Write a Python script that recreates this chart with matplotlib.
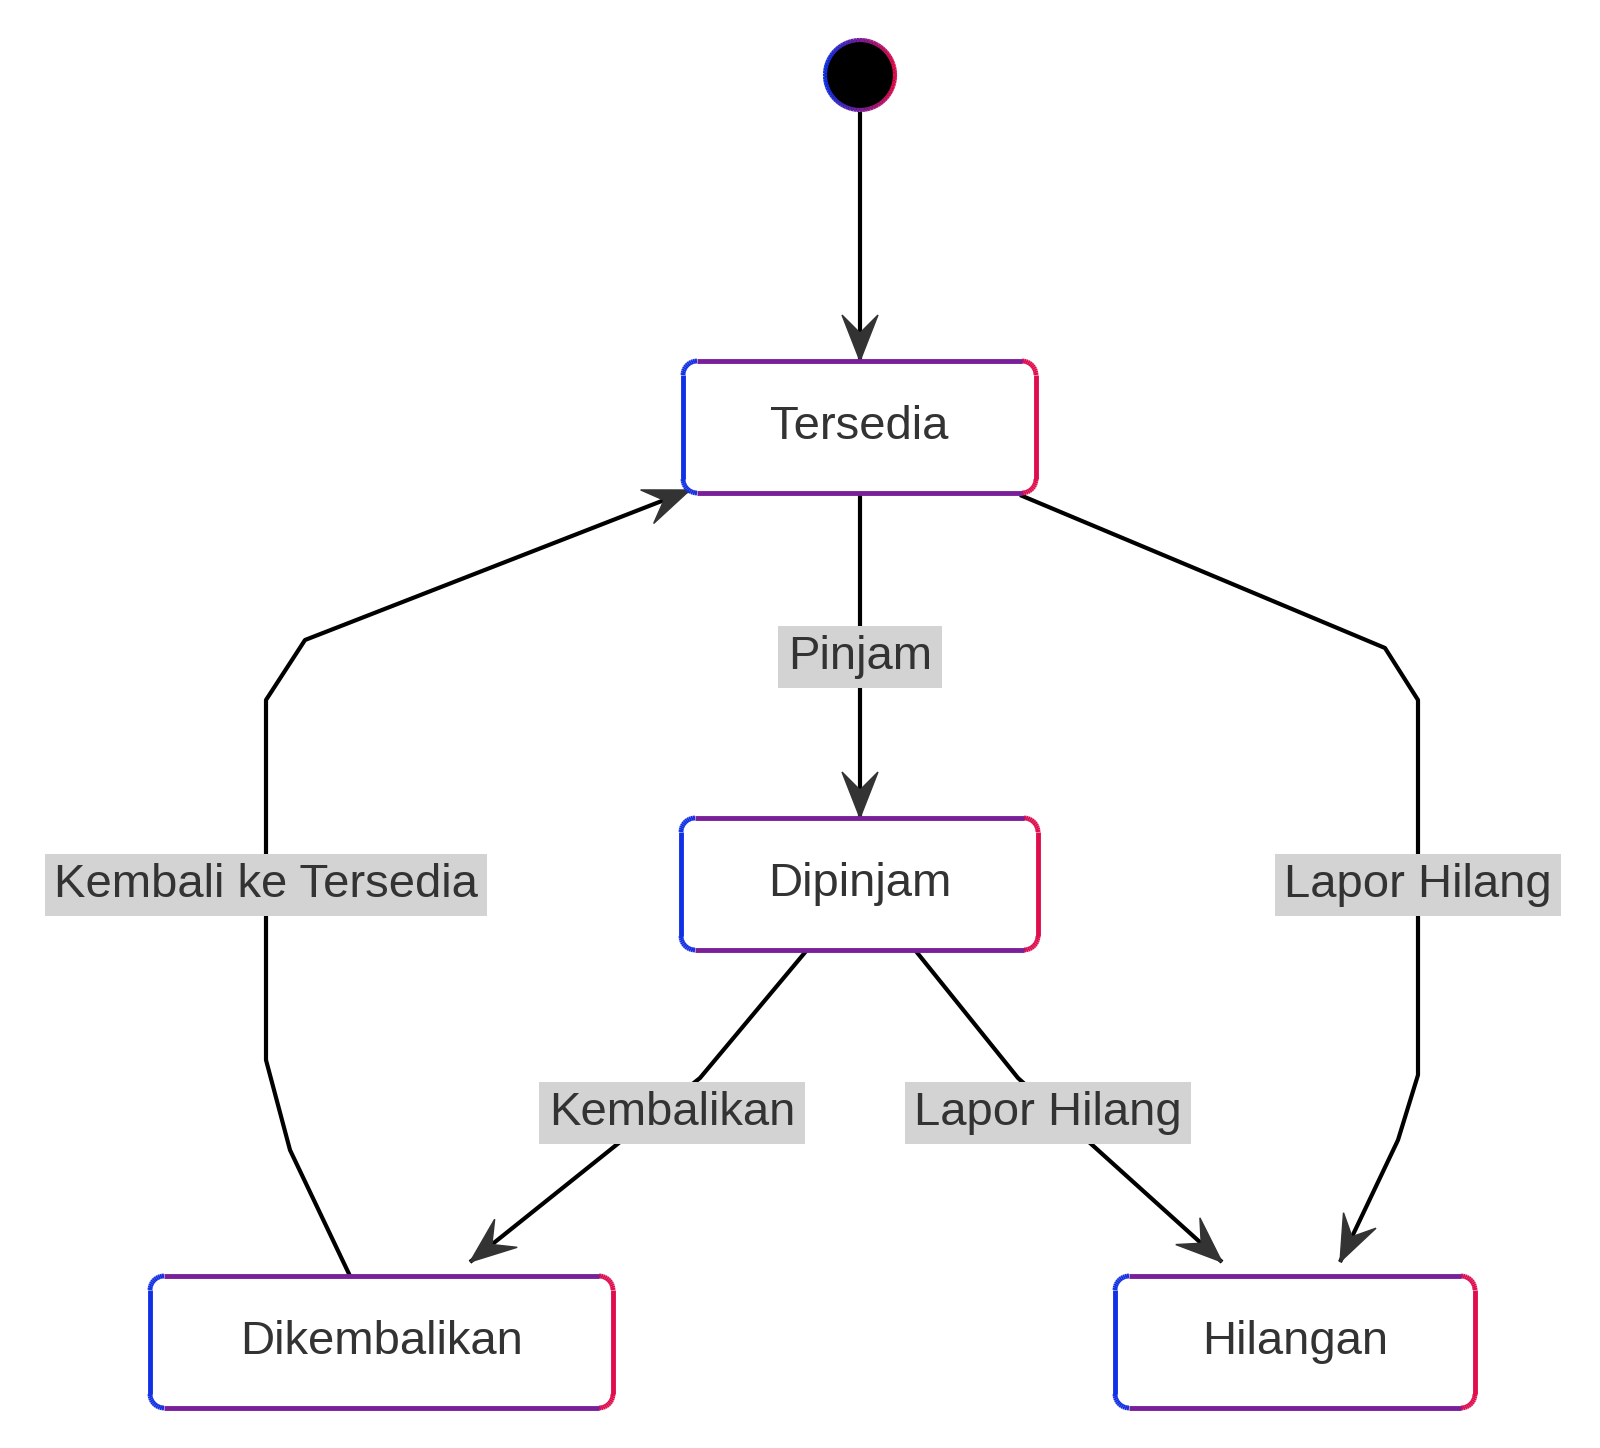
import matplotlib
matplotlib.use("Agg")
import matplotlib.pyplot as plt
import numpy as np
from matplotlib.collections import LineCollection
from matplotlib.patches import Polygon, Circle, Rectangle

plt.rcParams['font.family'] = ['Liberation Sans', 'DejaVu Sans']

# states: name, x0, y0, x1, y1 (pixel space)
state_names = ["Tersedia", "Dipinjam", "Dikembalikan", "Hilangan"]
state_boxes = [(683, 361, 1036, 493), (681, 818, 1038, 950),
               (150, 1276, 613, 1408), (1115, 1276, 1475, 1408)]
start_xy = (860, 75)

# edges: control polyline (rounded corners), label, label position
edges = [
    ([(860, 112), (860, 361)], None, None),
    ([(860, 493), (860, 818)], "Pinjam", (860, 657)),
    ([(1020, 495), (1385, 648), (1418, 700), (1418, 1075), (1398, 1140), (1340, 1262)],
     "Lapor Hilang", (1418, 885)),
    ([(350, 1276), (290, 1150), (266, 1060), (266, 700), (305, 640), (690, 490)],
     "Kembali ke Tersedia", (266, 885)),
    ([(807, 950), (700, 1078), (470, 1262)], "Kembalikan", (672, 1113)),
    ([(915, 950), (1018, 1078), (1222, 1262)], "Lapor Hilang", (1048, 1113)),
]

BLUE = np.array([0.06, 0.19, 0.90])
RED = np.array([0.88, 0.05, 0.30])


def rounded_rect(x0, y0, x1, y1, r=14, n=12):
    pts = []
    corners = [(x1 - r, y0 + r, -90, 0), (x1 - r, y1 - r, 0, 90),
               (x0 + r, y1 - r, 90, 180), (x0 + r, y0 + r, 180, 270)]
    for cx, cy, a0, a1 in corners:
        a = np.radians(np.linspace(a0, a1, n))
        pts += list(zip(cx + r * np.cos(a), cy + r * np.sin(a)))
    pts.append(pts[0])
    return np.array(pts)


def gradient_outline(ax, pts, xmin, xmax, lw=3.5):
    segs = np.stack([pts[:-1], pts[1:]], axis=1)
    t = ((segs[:, :, 0].mean(axis=1) - xmin) / (xmax - xmin)).clip(0, 1)
    cols = [tuple(BLUE * (1 - v) + RED * v) for v in t]
    ax.add_collection(LineCollection(segs, colors=cols, linewidths=lw, zorder=4))


def smooth(points, n=20):
    pts = np.array(points, float)
    if len(pts) == 2:
        return pts
    out = [pts[0]]
    i = 1
    # treat triples as quadratic beziers around interior points
    while i < len(pts) - 1:
        p0, p1, p2 = out[-1], pts[i], pts[i + 1] if i + 1 < len(pts) - 1 else pts[i + 1]
        p2 = pts[i + 1]
        tt = np.linspace(0, 1, n)[1:, None]
        curve = (1 - tt) ** 2 * p0 + 2 * (1 - tt) * tt * p1 + tt ** 2 * p2
        out += list(curve)
        i += 2 if i + 1 < len(pts) - 1 else 1
    if not np.allclose(out[-1], pts[-1]):
        out.append(pts[-1])
    return np.array(out)


fig = plt.figure(figsize=(16, 14.48), dpi=100)
ax = fig.add_axes([0, 0, 1, 1])
ax.set_xlim(0, 1600)
ax.set_ylim(1448, 0)
ax.axis('off')

for pts, label, lp in edges:
    p = np.array(pts, float)
    if len(p) > 3:
        # straight segments joined by rounded corners
        path = [p[0]]
        for k in range(1, len(p) - 1, 2):
            tt = np.linspace(0, 1, 20)[:, None]
            a, b, c = p[k], p[k + 1], p[k + 1]
            path.append(p[k])
        path = p
    path = p
    end = path[-1]
    prev = path[-2]
    d = (end - prev) / np.linalg.norm(end - prev)
    L = 40
    base = end - d * L
    ax.plot(path[:, 0], path[:, 1], color='black', lw=3, zorder=2,
            solid_joinstyle='round', solid_capstyle='butt')
    nrm = np.array([-d[1], d[0]])
    tri = [end, base + nrm * 18 - d * 6, base + d * 12, base - nrm * 18 - d * 6]
    ax.add_patch(Polygon(tri, closed=True, color='#333333', zorder=3))
    if label:
        ax.text(lp[0], lp[1], label, fontsize=34, color='#333333', ha='center',
                va='center', zorder=5,
                bbox=dict(boxstyle='square,pad=0.2', fc='#d3d3d3', ec='none'))

for name, (x0, y0, x1, y1) in zip(state_names, state_boxes):
    pts = rounded_rect(x0, y0, x1, y1)
    ax.fill(pts[:, 0], pts[:, 1], color='white', zorder=3)
    gradient_outline(ax, pts, x0, x1)
    ax.text((x0 + x1) / 2, (y0 + y1) / 2, name, fontsize=34, color='#333333',
            ha='center', va='center', zorder=5)

ax.add_patch(Circle(start_xy, 35, color='black', zorder=3))
a = np.radians(np.linspace(0, 360, 80))
cpts = np.column_stack([start_xy[0] + 35 * np.cos(a), start_xy[1] + 35 * np.sin(a)])
gradient_outline(ax, cpts, start_xy[0] - 35, start_xy[0] + 35, lw=3)

fig.savefig("out.png", dpi=100, facecolor='white')
